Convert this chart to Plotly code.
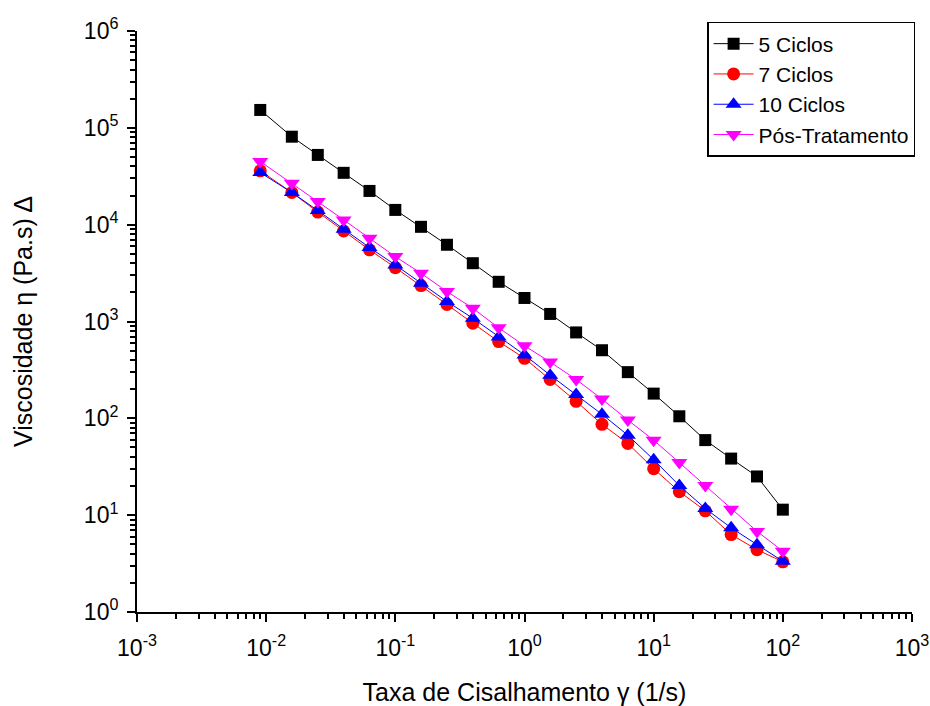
import plotly.graph_objects as go

shear_rate = [0.009, 0.0158, 0.0251, 0.0398, 0.0631, 0.1, 0.158, 0.251, 0.398, 0.631,
              1.0, 1.58, 2.51, 3.98, 6.31, 10.0, 15.8, 25.1, 39.8, 63.1, 100.0]

visc_5 = [1.53e5, 8.1e4, 5.25e4, 3.43e4, 2.23e4, 1.42e4, 9.5e3, 6.2e3, 4.0e3, 2.57e3,
          1750, 1197, 771, 505, 300, 180, 105, 59.6, 38.4, 25.1, 11.4]
visc_7 = [36000, 21500, 13500, 8600, 5500, 3600, 2350, 1500, 960, 620,
          417, 252, 150, 86.7, 55, 30.2, 17.5, 11.1, 6.3, 4.4, 3.3]
visc_10 = [34500, 21500, 14000, 8980, 5800, 3840, 2490, 1610, 1080, 692,
           452, 279, 176, 110, 67, 37.4, 20.2, 11.7, 7.4, 4.95, 3.34]
visc_pos = [44900, 26800, 17300, 11200, 7250, 4680, 3150, 2040, 1370, 860,
            561, 382, 252, 158, 96, 59.5, 34.9, 20.2, 11.5, 6.8, 4.25]

x_tickvals = [1e-3, 1e-2, 1e-1, 1e0, 1e1, 1e2, 1e3]
x_ticktext = ["10<sup>-3</sup>", "10<sup>-2</sup>", "10<sup>-1</sup>", "10<sup>0</sup>",
              "10<sup>1</sup>", "10<sup>2</sup>", "10<sup>3</sup>"]
y_tickvals = [1e0, 1e1, 1e2, 1e3, 1e4, 1e5, 1e6]
y_ticktext = ["10<sup>0</sup>", "10<sup>1</sup>", "10<sup>2</sup>", "10<sup>3</sup>",
              "10<sup>4</sup>", "10<sup>5</sup>", "10<sup>6</sup>"]

series = [
    ("5 Ciclos", visc_5, "#000000", "square", 12),
    ("7 Ciclos", visc_7, "#ff0000", "circle", 13),
    ("10 Ciclos", visc_10, "#0000ff", "triangle-up", 14),
    ("Pós-Tratamento", visc_pos, "#ff00ff", "triangle-down", 14),
]

FONT = "Arial, Liberation Sans, sans-serif"

fig = go.Figure()
for name, vals, color, sym, size in series:
    fig.add_trace(go.Scatter(
        x=shear_rate, y=vals, name=name, mode="lines+markers",
        line=dict(color=color, width=1),
        marker=dict(symbol=sym, size=size, color=color, line=dict(width=0)),
    ))

axis_common = dict(
    type="log", showgrid=False, zeroline=False, automargin=False,
    showline=True, linecolor="black", linewidth=2,
    ticks="outside", ticklen=8, tickwidth=2, tickcolor="black",
    tickfont=dict(family=FONT, size=23, color="black"),
    minor=dict(ticks="outside", ticklen=5, tickwidth=1.5, tickcolor="black", dtick="D1"),
)

fig.update_layout(
    width=930, height=706,
    margin=dict(l=137, r=18, t=31, b=94),
    paper_bgcolor="white", plot_bgcolor="white",
    font=dict(family=FONT, color="black"),
    xaxis=dict(axis_common, range=[-3, 3], tickmode="array",
               tickvals=x_tickvals, ticktext=x_ticktext, ticklabelstandoff=6,
               title=dict(text="Taxa de Cisalhamento γ (1/s)", font=dict(size=25), standoff=26)),
    yaxis=dict(axis_common, range=[0, 6], tickmode="array",
               tickvals=y_tickvals, ticktext=y_ticktext, ticklabelstandoff=4,
               title=dict(text="Viscosidade η (Pa.s) Δ", font=dict(size=25), standoff=44)),
    legend=dict(x=1.004, y=1.0155, xanchor="right", yanchor="top",
                bordercolor="black", borderwidth=1.5, bgcolor="white",
                font=dict(family=FONT, size=21, color="black"),
                tracegroupgap=0, itemwidth=40),
    showlegend=True,
)

fig.write_html("out.html")
